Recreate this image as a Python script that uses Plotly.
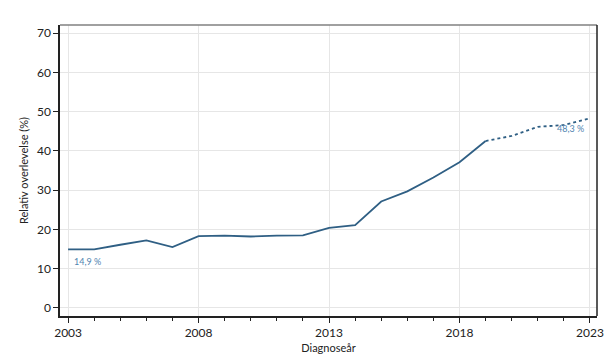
import plotly.graph_objects as go

years_solid = [2003, 2004, 2005, 2006, 2007, 2008, 2009, 2010, 2011, 2012,
               2013, 2014, 2015, 2016, 2017, 2018, 2019]
vals_solid = [14.9, 14.9, 16.1, 17.2, 15.5, 18.3, 18.4, 18.2, 18.4, 18.5,
              20.4, 21.1, 27.1, 29.7, 33.2, 37.1, 42.5]
years_dot = [2019, 2020, 2021, 2022, 2023]
vals_dot = [42.5, 43.8, 46.1, 46.6, 48.3]
x_ticks = [2003, 2008, 2013, 2018, 2023]
y_ticks = [0, 10, 20, 30, 40, 50, 60, 70]
label_first = "14,9 %"
label_last = "48,3 %"

line_color = "#2f5f84"
fnt = "Lato, 'Open Sans', sans-serif"

fig = go.Figure()
fig.add_trace(go.Scatter(x=years_solid, y=vals_solid, mode="lines",
                         line=dict(color=line_color, width=1.8), showlegend=False))
fig.add_trace(go.Scatter(x=years_dot, y=vals_dot, mode="lines",
                         line=dict(color=line_color, width=1.8, dash="dot"), showlegend=False))

fig.add_annotation(x=years_solid[0], y=vals_solid[0], text=label_first, showarrow=False,
                   xanchor="left", yanchor="top", xshift=4, yshift=-5,
                   font=dict(family=fnt, size=9, color="#4f84b0"))
fig.add_annotation(x=years_dot[-1], y=vals_dot[-1], text=label_last, showarrow=False,
                   xanchor="right", yanchor="top", xshift=-4, yshift=-3,
                   font=dict(family=fnt, size=9, color="#4f84b0"))

# frame: top grey, right black
fig.add_shape(type="line", xref="paper", yref="paper", x0=0, x1=1, y0=1, y1=1,
              line=dict(color="#808080", width=1.5))
fig.add_shape(type="line", xref="paper", yref="paper", x0=1, x1=1, y0=0, y1=1,
              line=dict(color="#222222", width=1.5))

fig.update_layout(
    width=612, height=356,
    margin=dict(l=52, r=23, t=17, b=48),
    paper_bgcolor="white", plot_bgcolor="white",
    font=dict(family=fnt, color="#222222"),
)
fig.update_xaxes(
    range=[2002.69, 2023.27], tickvals=x_ticks, ticktext=[str(v) for v in x_ticks],
    ticks="outside", ticklen=5, tickcolor="#222", tickfont=dict(size=12, family=fnt),
    minor=dict(dtick=1, tick0=2003, ticks="outside", ticklen=3, tickcolor="#222", showgrid=False),
    showgrid=True, gridcolor="#e6e6e6", gridwidth=1,
    showline=True, linecolor="#222", linewidth=1.5, mirror=False,
    title=dict(text="Diagnoseår", font=dict(size=11, family=fnt), standoff=5),
    zeroline=False, automargin=False,
)
fig.update_yaxes(
    range=[-2.04, 72.04], tickvals=y_ticks, ticktext=[str(v) for v in y_ticks],
    ticks="outside", ticklen=5, tickcolor="#222", tickfont=dict(size=12, family=fnt),
    showgrid=True, gridcolor="#e6e6e6", gridwidth=1,
    showline=True, linecolor="#222", linewidth=1.5, mirror=False,
    title=dict(text="Relativ overlevelse (%)", font=dict(size=11, family=fnt), standoff=6),
    zeroline=False, automargin=False,
)

fig.write_html("out.html")
